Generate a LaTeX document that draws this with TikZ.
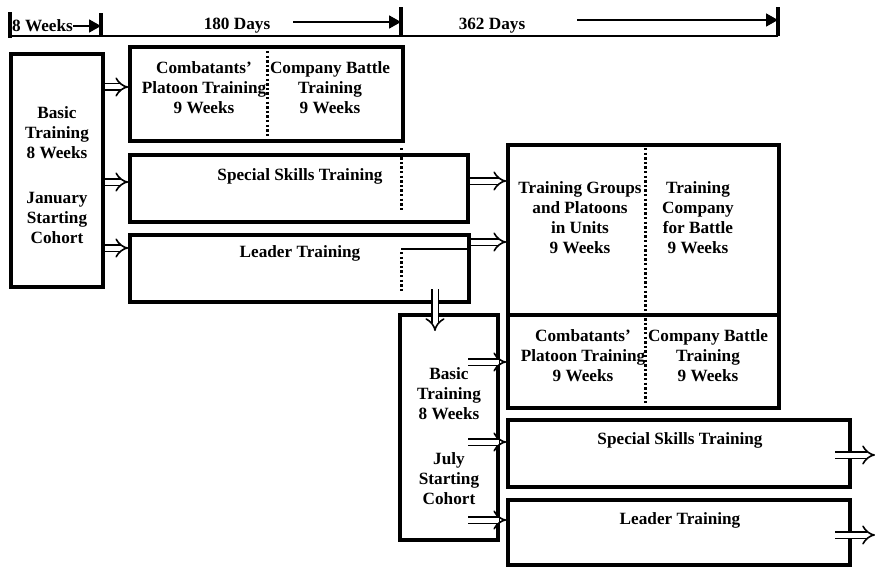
\documentclass[tikz,border=0pt]{standalone}
\usepackage{fontspec}
\setmainfont{Liberation Serif}
\usetikzlibrary{arrows.meta}

\begin{document}
\begin{tikzpicture}[
  x=1pt,
  y=-1pt,
  font=\fontsize{17.2}{20}\selectfont\bfseries,
  box/.style={draw, line width=3.6pt, inner sep=0pt},
  lbl/.style={align=center, inner sep=0pt},
  hollow/.style={double, double distance=5pt, line width=1.6pt, -{Implies[length=9pt, width=16pt]}},
  dots/.style={line width=3pt, dash pattern=on 2.4pt off 2.2pt},
  tick/.style={line width=4pt},
  span/.style={line width=1.8pt, -{Triangle[length=12pt, width=13pt]}}
]

\useasboundingbox (0,0) rectangle (875,567);

% time line
\coordinate (t0) at (10,36);
\coordinate (t1) at (101,36);
\coordinate (t2) at (401,36);
\coordinate (t3) at (778,36);
\draw[line width=2pt] (t0) -- (t3);
\draw[tick] (10,38) -- (10,12);
\draw[tick] (101,36) -- (101,13);
\draw[tick] (401,36) -- (401,7);
\draw[tick] (778,36) -- (778,7);

\node[anchor=west, inner sep=0pt] (wk8) at (12,26) {8 Weeks};
\node[inner sep=0pt] (days180) at (237,26) {180 Days};
\node[inner sep=0pt] (days362) at (492,26) {362 Days};
\coordinate (go180) at (293,22);
\coordinate (go362) at (577,20);
\draw[span] (wk8) -- (wk8 -| t1);
\draw[span] (go180) -- (go180 -| t2);
\draw[span] (go362) -- (go362 -| t3);

% January cohort
\node[box, minimum width=92, minimum height=233] (basicJan) at (57,170.5) {};
\node[lbl] (basicJanTxt) at (57,175) {Basic\\Training\\8 Weeks\\[25pt]January\\Starting\\Cohort};

\node[box, minimum width=273, minimum height=94] (platJan) at (266.5,94) {};
\node[lbl] (platJanL) at (204,88) {Combatants'\\Platoon Training\\9 Weeks};
\node[lbl] (platJanR) at (330,88) {Company Battle\\Training\\9 Weeks};
\draw[dots] (267,51) -- (267,138);

\node[box, minimum width=338, minimum height=67] (skillJan) at (299,188.5) {};
\node[lbl] (skillJanTxt) at (300,176) {Special Skills Training};
\draw[dots] (401,148) -- (401,212);

\node[box, minimum width=339, minimum height=67] (ldrJan) at (299.5,268.5) {};
\node[lbl] (ldrJanTxt) at (300,253) {Leader Training};
\draw[line width=1.6pt] (401,249) -- (469,249);
\draw[dots] (401,252) -- (401,293);

\node[box, minimum width=271, minimum height=170] (grpUp) at (643.5,230) {};
\node[lbl] (grpUpL) at (580,218) {Training Groups\\and Platoons\\in Units\\9 Weeks};
\node[lbl] (grpUpR) at (698,218) {Training\\Company\\for Battle\\9 Weeks};

% July cohort
\node[box, minimum width=271, minimum height=93] (grpLow) at (643.5,361.5) {};
\node[lbl] (grpLowL) at (583,356) {Combatants'\\Platoon Training\\9 Weeks};
\node[lbl] (grpLowR) at (708,356) {Company Battle\\Training\\9 Weeks};
\draw[dots] (645,148) -- (645,405);

\node[box, minimum width=98, minimum height=225] (basicJul) at (449,427.5) {};
\node[lbl] (basicJulTxt) at (449,436) {Basic\\Training\\8 Weeks\\[25pt]July\\Starting\\Cohort};

\node[box, minimum width=342, minimum height=67] (skillJul) at (679,453.5) {};
\node[lbl] (skillJulTxt) at (680,440) {Special Skills Training};

\node[box, minimum width=342, minimum height=65] (ldrJul) at (679,532.5) {};
\node[lbl] (ldrJulTxt) at (680,520) {Leader Training};

\draw[hollow] (basicJan.east |- 0,87) -- (platJan.west |- 0,87);
\draw[hollow] (basicJan.east |- 0,182) -- (skillJan.west |- 0,182);
\draw[hollow] (basicJan.east |- 0,248) -- (ldrJan.west |- 0,248);
\draw[hollow] (skillJan.east |- 0,181) -- (grpUp.west |- 0,181);
\draw[hollow] (ldrJan.east |- 0,242) -- (grpUp.west |- 0,242);

\coordinate (dropA) at (435,289);
\coordinate (dropB) at (435,331);
\draw[hollow] (dropA) -- (dropB);

\coordinate (julA) at (468,362);
\coordinate (julB) at (468,442);
\coordinate (julC) at (468,520);
\draw[hollow] (julA) -- (julA -| grpLow.west);
\draw[hollow] (julB) -- (julB -| skillJul.west);
\draw[hollow] (julC) -- (julC -| ldrJul.west);

\coordinate (outA) at (835,455);
\coordinate (outB) at (835,535);
\draw[hollow] (outA) -- ++(40,0);
\draw[hollow] (outB) -- ++(40,0);

\end{tikzpicture}
\end{document}
